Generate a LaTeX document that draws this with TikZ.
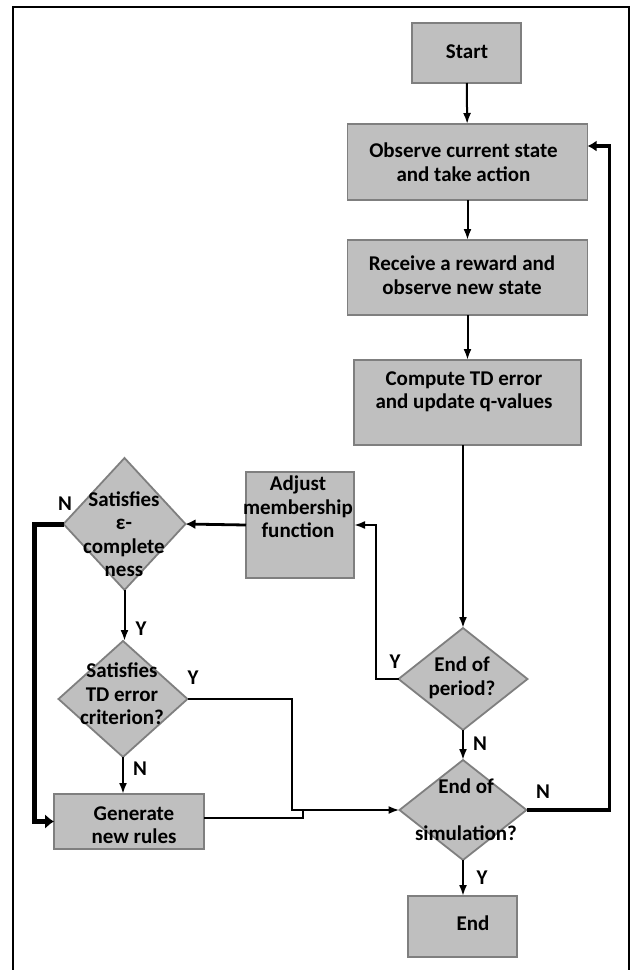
\documentclass[tikz,border=0pt]{standalone}
\usepackage{fontspec}
\setmainfont{Carlito}
\usetikzlibrary{shapes.geometric,arrows.meta,calc}
\definecolor{boxfill}{HTML}{BFBFBF}
\definecolor{boxline}{HTML}{7F7F7F}
\begin{document}
\begin{tikzpicture}[x=1pt,y=-1pt,
  every node/.style={font=\bfseries\fontsize{21}{23.5}\selectfont},
  procbox/.style={draw=boxline, fill=boxfill, line width=1.8pt, rectangle, inner sep=0pt, outer sep=0pt},
  decbox/.style={draw=boxline, fill=boxfill, line width=1.8pt, diamond, inner sep=0pt, outer sep=0pt},
  txt/.style={align=center, inner sep=0pt},
  lbl/.style={inner sep=0pt},
  conn/.style={line width=2pt, -{Latex[length=11pt,width=8pt]}},
  medconn/.style={line width=2.8pt, -{Latex[length=10pt,width=10pt]}},
  thickconn/.style={line width=3.6pt, -{Latex[length=9pt,width=11pt]}},
  fatconn/.style={line width=5pt, -{Latex[length=9pt,width=15pt]}},
  plainline/.style={line width=2pt}
]
\useasboundingbox (0,0) rectangle (630,970);
% frame
\draw[line width=2.2pt] (13,970) -- (13,7);
\draw[line width=1.6pt] (12,7) -- (629,7) -- (629,970);

% process boxes
\node[procbox, minimum width=109pt, minimum height=60pt] (start) at (466.5,53) {};
\node[txt] (tstart) at (467,52) {Start};
\node[procbox, minimum width=240pt, minimum height=76pt] (observe) at (467.5,162) {};
\node[txt] (tobserve) at (463.5,162) {Observe current state\\and take action};
\node[procbox, minimum width=240pt, minimum height=75pt] (receive) at (467.5,277.5) {};
\node[txt] (treceive) at (462,275) {Receive a reward and\\observe new state};
\node[procbox, minimum width=227pt, minimum height=85pt] (compute) at (467.5,402.5) {};
\node[txt] (tcompute) at (464,392) {Compute TD error\\and update q-values};
\node[procbox, minimum width=108pt, minimum height=106pt] (adjust) at (300,525) {};
\node[txt] (tadjust) at (298,507) {Adjust\\membership\\function};
\node[procbox, minimum width=150pt, minimum height=55pt] (generate) at (129,821.5) {};
\node[txt] (tgenerate) at (134,825) {Generate\\new rules};
\node[procbox, minimum width=109pt, minimum height=61pt] (end) at (462.5,926.5) {};
\node[txt] (tend) at (473,923) {End};

% decisions
\node[decbox, minimum width=122pt, minimum height=132pt] (d1) at (124.5,524) {};
\node[txt] (td1) at (124,534) {Satisfies\\ε-\\complete\\ness};
\node[decbox, minimum width=129pt, minimum height=116pt] (d2) at (123,699) {};
\node[txt] (td2) at (122,694) {Satisfies\\TD error\\criterion?};
\node[decbox, minimum width=129pt, minimum height=102pt] (period) at (463,679) {};
\node[txt] (tperiod) at (462,678) {End of\\period?};
\node[decbox, minimum width=127pt, minimum height=100pt] (sim) at (463,810) {};
\node[txt] (tsim) at (466,810) {End of\\\mbox{}\\simulation?};

% connectors
\draw[conn] (start) -- (observe);
\draw[conn] (observe) -- (receive);
\draw[conn] (receive) -- (compute);
\draw[conn] (period.north |- compute.south) -- (period.north);
\draw[conn] (period) -- (sim);
\draw[conn] (sim.south) -- (sim.south |- end.north);
\draw[thickconn] (sim.east) -- ++(83,0) |- ($(observe.east)+(0,-16)$);
\draw[conn] (period.west) -- ++(-23,0) |- (adjust.east);
\draw[medconn] (adjust.west) -- (d1.east);
\draw[conn] (d1.south) -- (d1.south |- d2.north);
\draw[fatconn] (d1.west) -- ++(-29,0) |- (generate.west);
\draw[conn] (d2.east) -- ++(104.5,0) |- (sim.west);
\draw[conn] (d2.south) -- (d2.south |- generate.north);
\coordinate (jn) at (303,809);
\draw[plainline] ($(generate.east)+(0,-3.5)$) -| (jn);

% labels
\node[lbl] (nA) at (65,504) {N};
\node[lbl] (yA) at (141,629) {Y};
\node[lbl] (yB) at (193,678) {Y};
\node[lbl] (nB) at (140,769) {N};
\node[lbl] (yC) at (395,662) {Y};
\node[lbl] (nC) at (480,744) {N};
\node[lbl] (nD) at (543,792) {N};
\node[lbl] (yD) at (482,878) {Y};
\end{tikzpicture}
\end{document}
